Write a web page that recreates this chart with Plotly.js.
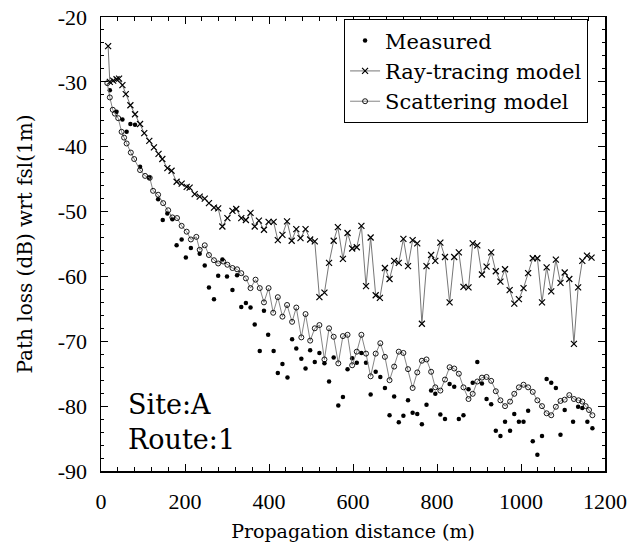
<!DOCTYPE html>
<html>
<head>
<meta charset="utf-8">
<script src="https://cdn.plot.ly/plotly-3.0.1.min.js"></script>
<style>html,body{margin:0;padding:0;background:#fff;}#chart{width:640px;height:551px;}</style>
</head>
<body>
<div id="chart"></div>
<script>
const measX = [21,37,51,61,70,81,93,115,136,147,158,170,180,192,202,214,235,247,257,269,279,289,300,313,324,334,345,356,366,378,388,398,411,421,432,444,455,465,477,487,498,509,520,532,543,554,565,576,587,598,609,620,631,642,654,665,676,687,698,709,720,731,742,753,764,775,786,796,808,819,830,841,852,863,875,885,896,907,918,929,940,951,962,974,984,995,1006,1017,1028,1039,1050,1061,1072,1083,1094,1104,1124,1136,1146,1158,1170];
const measY = [-31.3,-34.6,-35.8,-37.7,-36.5,-36.6,-43.1,-44.8,-48.1,-51.3,-50.3,-51.2,-55.2,-54.3,-57.1,-55.6,-56.5,-58.3,-61.7,-63.5,-59.9,-57.4,-60.0,-62.1,-59.8,-64.7,-64.1,-64.8,-67.4,-71.5,-65.3,-69.0,-71.5,-74.9,-73.5,-75.6,-69.7,-71.1,-72.7,-74.2,-71.4,-73.2,-71.8,-73.4,-76.2,-72.5,-79.9,-78.6,-74.3,-72.6,-73.3,-71.8,-73.3,-78.2,-74.7,-75.5,-77.2,-81.4,-78.5,-82.5,-81.5,-79.1,-81.0,-81.2,-82.8,-79.8,-77.6,-78.1,-81.3,-82.0,-76.6,-77.0,-82.0,-81.4,-77.4,-76.4,-73.2,-76.5,-78.9,-79.7,-83.8,-84.6,-82.4,-83.8,-81.2,-82.4,-82.4,-80.7,-85.4,-87.5,-84.6,-75.8,-76.4,-77.2,-84.4,-80.6,-82.4,-80.1,-80.3,-82.4,-83.4];

const rayX = [17,21,29,37,43,51,59,70,81,93,103,115,126,137,146,158,168,180,192,204,211,223,235,247,257,269,279,289,301,313,322,334,345,356,366,376,388,399,411,421,432,443,454,465,475,487,498,509,520,532,543,554,564,576,587,598,609,620,631,642,654,664,676,687,698,709,720,731,742,753,764,775,786,796,808,819,830,841,852,863,875,885,896,907,918,929,940,951,962,973,984,995,1006,1017,1028,1039,1050,1061,1072,1083,1094,1104,1115,1126,1136,1146,1157,1168];
const rayY = [-24.5,-30.0,-29.8,-29.6,-29.5,-30.5,-31.9,-33.6,-35.0,-36.5,-37.9,-39.1,-40.1,-41.1,-41.9,-43.3,-43.7,-45.4,-45.7,-46.2,-46.3,-47.3,-47.7,-48.0,-48.7,-49.4,-49.5,-52.3,-51.0,-49.9,-49.6,-51.0,-51.3,-50.2,-52.3,-51.4,-52.8,-51.6,-51.6,-54.4,-53.6,-51.5,-54.5,-52.7,-54.1,-52.7,-54.3,-54.6,-63.2,-62.5,-57.9,-54.5,-52.4,-57.3,-53.3,-55.7,-55.5,-52.2,-61.5,-54.0,-62.9,-63.3,-58.7,-60.4,-57.6,-57.9,-54.2,-58.4,-54.4,-54.9,-67.3,-58.4,-56.7,-57.6,-54.8,-57.0,-64.0,-57.0,-56.3,-61.6,-61.7,-54.9,-55.2,-59.7,-58.5,-56.3,-59.2,-60.8,-58.9,-62.1,-64.2,-63.5,-61.8,-59.5,-57.2,-57.2,-64.0,-58.6,-62.3,-57.4,-61.0,-59.4,-60.4,-70.4,-61.7,-57.6,-56.8,-57.1];

const scatX = [15,21,28,33,41,49,55,61,71,79,93,105,116,124,136,148,160,170,181,192,204,214,227,235,247,257,269,279,291,301,313,324,334,345,356,368,378,388,399,410,421,432,443,455,465,477,487,498,509,520,532,543,554,565,576,587,598,609,620,631,642,654,665,676,687,698,709,720,731,742,753,764,775,786,796,808,819,830,841,852,863,875,885,896,907,918,929,940,951,962,974,984,995,1006,1017,1028,1039,1050,1061,1072,1083,1094,1104,1115,1126,1137,1146,1154,1162,1170];
const scatY = [-30.2,-32.4,-34.3,-34.9,-35.6,-37.7,-38.6,-39.5,-40.9,-41.9,-43.6,-44.5,-44.8,-46.8,-47.4,-48.7,-49.8,-50.9,-51.0,-52.2,-53.1,-54.3,-53.9,-55.9,-55.2,-56.7,-57.5,-58.0,-57.7,-58.2,-58.7,-58.9,-59.5,-60.3,-61.8,-60.5,-61.8,-64.0,-61.8,-65.6,-63.2,-66.2,-64.4,-67.0,-64.8,-69.4,-65.8,-69.9,-68.0,-67.5,-72.8,-68.0,-69.3,-73.4,-69.2,-69.0,-73.7,-71.6,-69.0,-71.9,-75.4,-71.9,-70.3,-72.4,-76.0,-73.9,-71.6,-71.8,-74.3,-77.2,-74.8,-73.0,-72.8,-74.7,-77.1,-77.6,-75.9,-74.0,-74.2,-75.0,-77.1,-78.9,-78.1,-76.2,-75.6,-75.5,-76.1,-77.7,-79.1,-80.0,-79.3,-78.1,-77.1,-76.7,-77.1,-77.8,-79.1,-80.0,-81.1,-81.4,-80.1,-79.2,-79.0,-78.3,-78.9,-79.1,-79.3,-80.0,-80.6,-81.4];

const seriesNames = ["Measured", "Ray-tracing model", "Scattering model"];
const xTickVals = [0,200,400,600,800,1000,1200];
const yTickVals = [-90,-80,-70,-60,-50,-40,-30,-20];

const FONT = "DejaVu Serif, Liberation Serif, serif";
const TICKFONT = "Liberation Serif, Times New Roman, serif";

const traces = [
  {x: measX, y: measY, name: seriesNames[0], type: "scatter", mode: "markers",
   marker: {symbol: "circle", size: 4.5, color: "#000"}},
  {x: rayX, y: rayY, name: seriesNames[1], type: "scatter", mode: "lines+markers",
   line: {color: "#666", width: 0.9},
   marker: {symbol: "x-thin-open", size: 6, color: "#000", line: {color: "#000", width: 1.2}}},
  {x: scatX, y: scatY, name: seriesNames[2], type: "scatter", mode: "lines+markers",
   line: {color: "#777", width: 0.9},
   marker: {symbol: "circle-open", size: 5, color: "#000", line: {color: "#000", width: 0.9}}}
];

const layout = {
  width: 640, height: 551,
  margin: {l: 101, r: 35, t: 17, b: 80},
  paper_bgcolor: "#fff", plot_bgcolor: "#fff",
  font: {family: FONT, size: 18, color: "#000"},
  showlegend: true,
  legend: {x: 0.966, y: 0.995, xanchor: "right", yanchor: "top",
    bgcolor: "#fff", bordercolor: "#000", borderwidth: 1.2,
    font: {family: FONT, size: 21, color: "#000"}, itemwidth: 30, tracegroupgap: 0},
  xaxis: {range: [0, 1200], tickvals: xTickVals, ticktext: xTickVals.map(String),
    showgrid: false, zeroline: false, showline: true, linecolor: "#000", linewidth: 1.5,
    mirror: "ticks", ticks: "inside", ticklen: 7, tickcolor: "#000",
    minor: {dtick: 40, ticks: "inside", ticklen: 4, tickcolor: "#000", showgrid: false},
    ticklabelstandoff: 10,
    tickfont: {family: TICKFONT, size: 22},
    title: {text: "Propagation distance (m)", font: {family: FONT, size: 19}, standoff: 12}},
  yaxis: {range: [-90, -20], tickvals: yTickVals, ticktext: yTickVals.map(String),
    showgrid: false, zeroline: false, showline: true, linecolor: "#000", linewidth: 1.5,
    mirror: "ticks", ticks: "inside", ticklen: 7, tickcolor: "#000",
    minor: {dtick: 2, ticks: "inside", ticklen: 3, tickcolor: "#000", showgrid: false},
    ticklabelstandoff: 8,
    tickfont: {family: TICKFONT, size: 22},
    title: {text: "Path loss (dB) wrt fsl(1m)", font: {family: FONT, size: 20}, standoff: 20}},
  annotations: [
    {text: "Site:A<br>Route:1", xref: "paper", yref: "paper", x: 0.05, y: 0.03,
     xanchor: "left", yanchor: "bottom", align: "left", showarrow: false,
     font: {family: FONT, size: 27, color: "#000"}}
  ]
};

Plotly.newPlot("chart", traces, layout, {displayModeBar: false, staticPlot: true});
</script>
</body>
</html>
